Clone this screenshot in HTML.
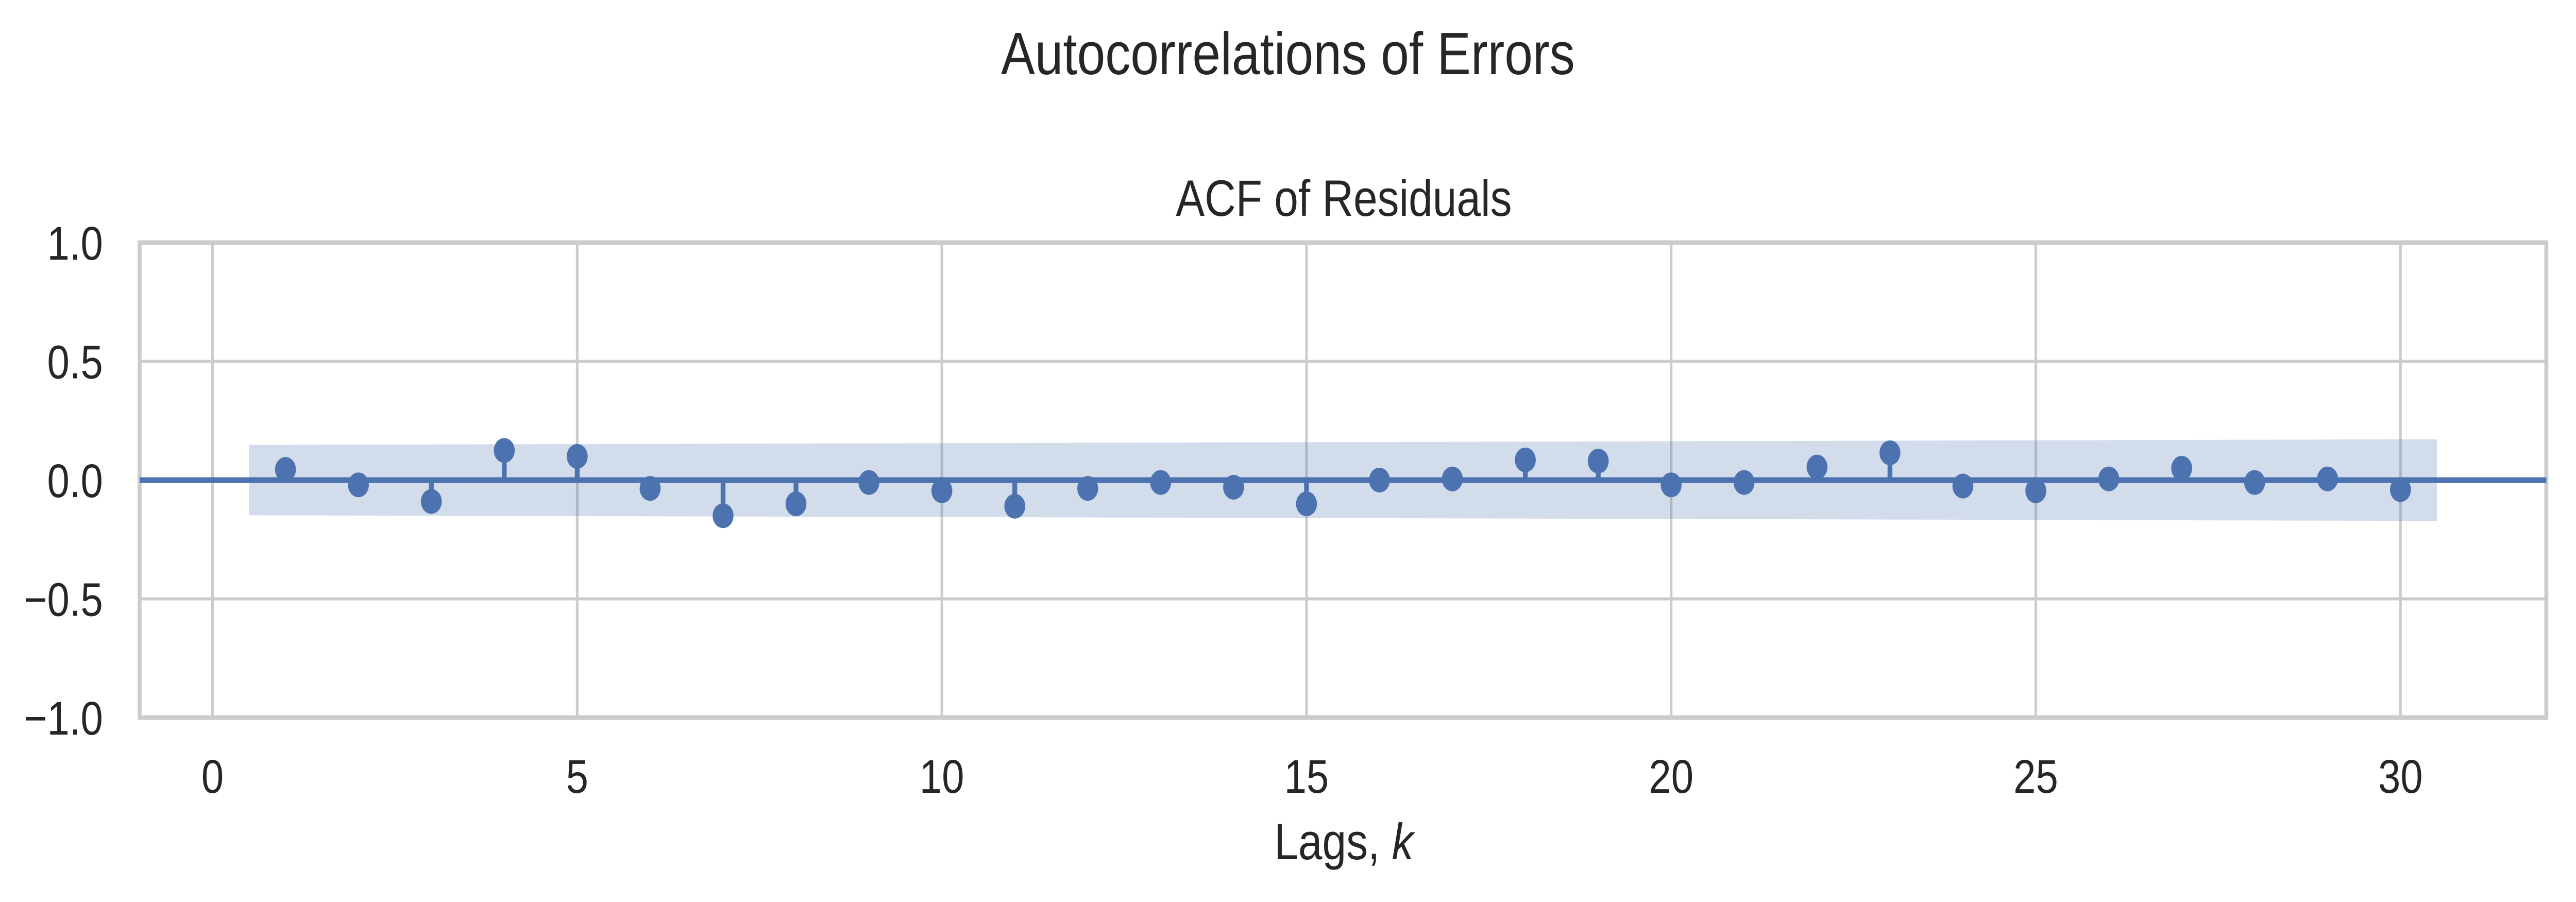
<!DOCTYPE html>
<html><head><meta charset="utf-8"><style>
html,body{margin:0;padding:0;background:#fff;width:100%;height:100%;overflow:hidden;}
svg{display:block;width:100vw;height:100vh;font-family:"Liberation Sans","DejaVu Sans",sans-serif;}
</style></head><body>
<svg id="chart" viewBox="0 0 5904 1751" preserveAspectRatio="none">
<text x="2952" y="144" text-anchor="middle" font-size="116" fill="#262626">Autocorrelations of Errors</text>
<text x="3080" y="419" text-anchor="middle" font-size="99" fill="#262626">ACF of Residuals</text>
<g id="grid"></g>
<g id="band"></g>
<g id="marks"></g>
<g id="ticks"></g>
<text x="3080" y="1668" text-anchor="middle" font-size="99" fill="#262626">Lags, <tspan font-style="italic">k</tspan></text>
</svg>
<script>
const lags = [1,2,3,4,5,6,7,8,9,10,11,12,13,14,15,16,17,18,19,20,21,22,23,24,25,26,27,28,29,30];
const acfValues = [0.045,-0.02,-0.09,0.125,0.10,-0.035,-0.15,-0.10,-0.01,-0.045,-0.11,-0.035,-0.01,-0.03,-0.10,0.0,0.005,0.085,0.08,-0.02,-0.01,0.055,0.115,-0.025,-0.045,0.005,0.05,-0.01,0.005,-0.04];
const confStart = 0.148;
const confEnd = 0.172;
const xTicks = [0,5,10,15,20,25,30];
const yTicks = [-1.0,-0.5,0.0,0.5,1.0];
const yTickLabels = ["\u22121.0","\u22120.5","0.0","0.5","1.0"];

const L=320,R=5836,T=471,B=1393;
const xMin=-1,xMax=32,yMin=-1,yMax=1;
const sx=v=>L+(v-xMin)/(xMax-xMin)*(R-L);
const sy=v=>B-(v-yMin)/(yMax-yMin)*(B-T);
const NS="http://www.w3.org/2000/svg";
function mk(parent,tag,attrs){const e=document.createElementNS(NS,tag);for(const k in attrs)e.setAttribute(k,attrs[k]);document.getElementById(parent).appendChild(e);return e;}

xTicks.forEach((t,i)=>{
  const g=mk('grid','line',{x1:sx(t),x2:sx(t),y1:T,y2:B,stroke:'#cccccc','stroke-width':6});
  
  
  const tx=mk('ticks','text',{x:sx(t),y:1539,'text-anchor':'middle','font-size':92,fill:'#262626'});
  tx.textContent=String(t);
  
  
});
yTicks.forEach((t,i)=>{
  const g=mk('grid','line',{x1:L,x2:R,y1:sy(t),y2:sy(t),stroke:'#cccccc','stroke-width':6});
  
  
  const tx=mk('ticks','text',{x:236,y:sy(t)+33,'text-anchor':'end','font-size':92,fill:'#262626'});
  tx.textContent=yTickLabels[i];
  
  
});
const sp=mk('grid','rect',{x:L,y:T,width:R-L,height:B-T,fill:'none',stroke:'#cccccc','stroke-width':9});



const first=lags[0]-0.5,last=lags[lags.length-1]+0.5;
const d=`M${sx(first)},${sy(confStart)} L${sx(last)},${sy(confEnd)} L${sx(last)},${sy(-confEnd)} L${sx(first)},${sy(-confStart)} Z`;
const band=mk('band','path',{d:d,fill:'#4c72b0','fill-opacity':0.25});



const zl=mk('marks','line',{x1:L,x2:R,y1:sy(0),y2:sy(0),stroke:'#4c72b0','stroke-width':11});


lags.forEach((k,i)=>{
  const v=acfValues[i];
  const st=mk('marks','line',{x1:sx(k),x2:sx(k),y1:sy(0),y2:sy(v),stroke:'#4c72b0','stroke-width':11});
  
  
  const c=mk('marks','circle',{cx:sx(k),cy:sy(v),r:24,fill:'#4c72b0'});
  
  
});
</script>
</body></html>
